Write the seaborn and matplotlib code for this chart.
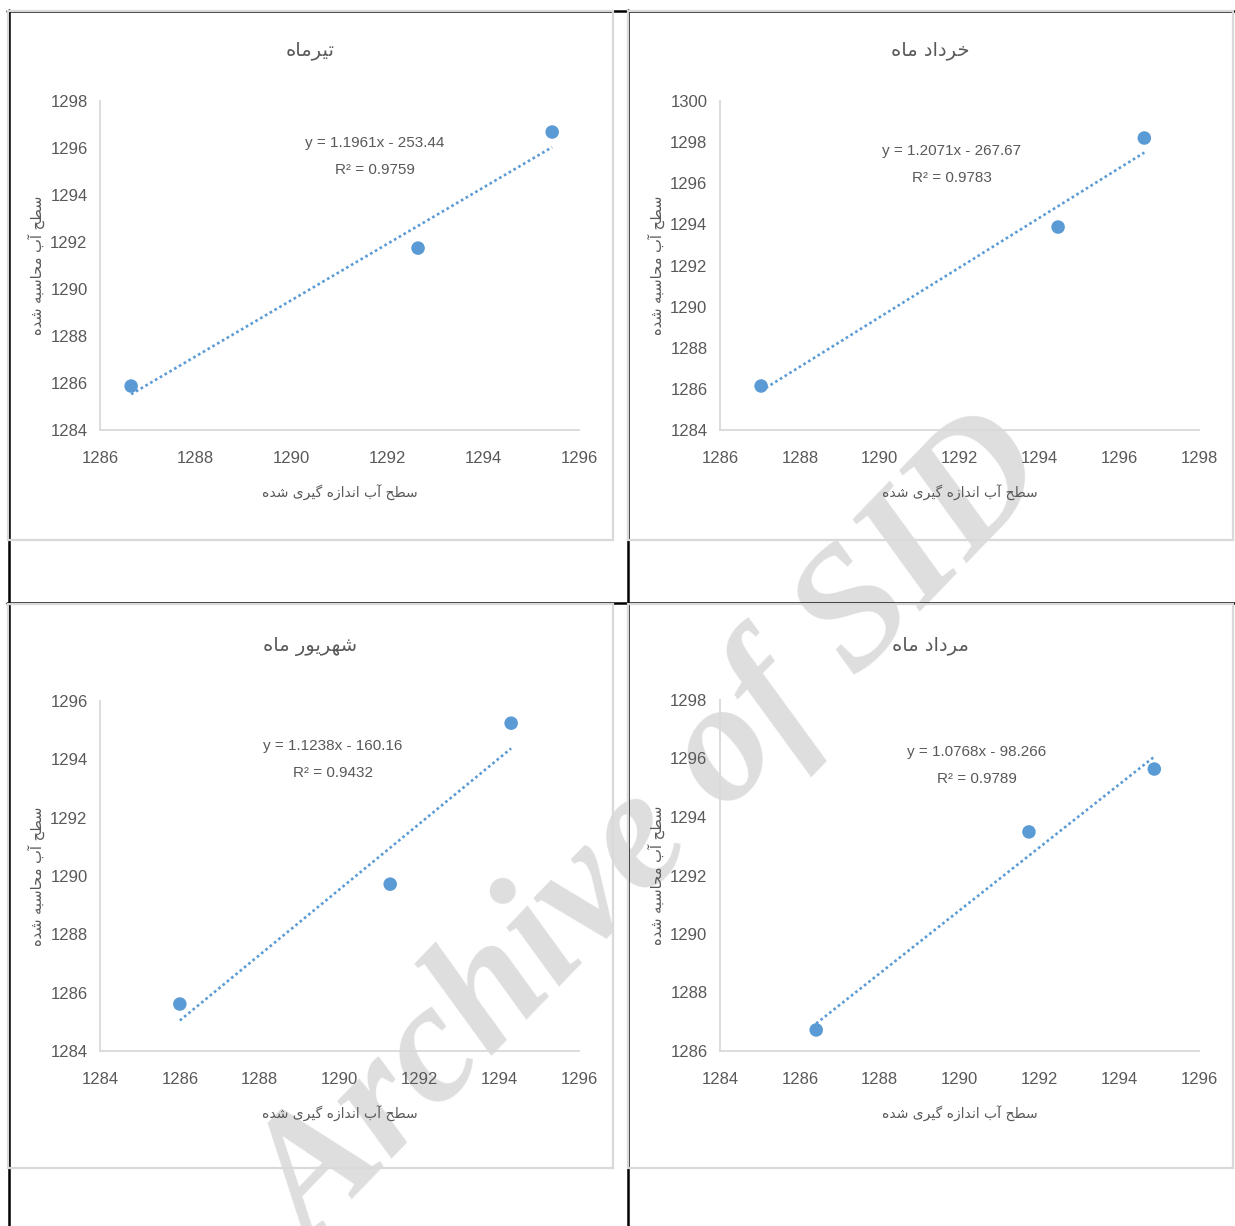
import numpy as np
import pandas as pd
import matplotlib
matplotlib.use("Agg")
import matplotlib.pyplot as plt
from matplotlib.patches import Rectangle
from matplotlib.lines import Line2D
import seaborn as sns

# ---------------- data ----------------
titles = ["تیرماه", "خرداد ماه", "شهریور ماه", "مرداد ماه"]
x_label = "سطح آب اندازه گیری شده"
y_label = "سطح آب محاسبه شده"

tir_x = [1286.65, 1292.64, 1295.44]
tir_y = [1285.87, 1291.74, 1296.68]
khordad_x = [1287.03, 1294.47, 1296.63]
khordad_y = [1286.14, 1293.87, 1298.20]
shahrivar_x = [1286.00, 1291.27, 1294.30]
shahrivar_y = [1285.61, 1289.72, 1295.24]
mordad_x = [1286.41, 1291.74, 1294.88]
mordad_y = [1286.72, 1293.49, 1295.64]

slopes = [1.1961, 1.2071, 1.1238, 1.0768]
intercepts = [-253.44, -267.67, -160.16, -98.266]
eq_labels = ["y = 1.1961x - 253.44", "y = 1.2071x - 267.67",
             "y = 1.1238x - 160.16", "y = 1.0768x - 98.266"]
r2_labels = ["R² = 0.9759", "R² = 0.9783", "R² = 0.9432", "R² = 0.9789"]

x_ticks = [[1286, 1288, 1290, 1292, 1294, 1296],
           [1286, 1288, 1290, 1292, 1294, 1296, 1298],
           [1284, 1286, 1288, 1290, 1292, 1294, 1296],
           [1284, 1286, 1288, 1290, 1292, 1294, 1296]]
y_ticks = [[1284, 1286, 1288, 1290, 1292, 1294, 1296, 1298],
           [1284, 1286, 1288, 1290, 1292, 1294, 1296, 1298, 1300],
           [1284, 1286, 1288, 1290, 1292, 1294, 1296],
           [1286, 1288, 1290, 1292, 1294, 1296, 1298]]

# ---------------- simple Arabic/Persian shaping ----------------
FORMS = {
    'ا': (0xFE8D, 0xFE8E, None, None), 'آ': (0xFE81, 0xFE82, None, None),
    'ب': (0xFE8F, 0xFE90, 0xFE91, 0xFE92), 'پ': (0xFB56, 0xFB57, 0xFB58, 0xFB59),
    'ت': (0xFE95, 0xFE96, 0xFE97, 0xFE98), 'ح': (0xFEA1, 0xFEA2, 0xFEA3, 0xFEA4),
    'خ': (0xFEA5, 0xFEA6, 0xFEA7, 0xFEA8), 'د': (0xFEA9, 0xFEAA, None, None),
    'ذ': (0xFEAB, 0xFEAC, None, None), 'ر': (0xFEAD, 0xFEAE, None, None),
    'ز': (0xFEAF, 0xFEB0, None, None), 'س': (0xFEB1, 0xFEB2, 0xFEB3, 0xFEB4),
    'ش': (0xFEB5, 0xFEB6, 0xFEB7, 0xFEB8), 'ط': (0xFEC1, 0xFEC2, 0xFEC3, 0xFEC4),
    'گ': (0xFB92, 0xFB93, 0xFB94, 0xFB95), 'م': (0xFEE1, 0xFEE2, 0xFEE3, 0xFEE4),
    'ن': (0xFEE5, 0xFEE6, 0xFEE7, 0xFEE8),
    'ه': (0xFEE9, 0xFEEA, 0xFEEB, 0xFEEC), 'و': (0xFEED, 0xFEEE, None, None),
    'ی': (0xFBFC, 0xFBFD, 0xFBFE, 0xFBFF),
}


def shape(text):
    out = []
    n = len(text)
    for i, ch in enumerate(text):
        if ch not in FORMS:
            out.append(ch)
            continue
        iso, fin, ini, med = FORMS[ch]
        prev = text[i - 1] if i > 0 else None
        nxt = text[i + 1] if i < n - 1 else None
        jp = prev in FORMS and FORMS[prev][2] is not None
        jn = ini is not None and nxt in FORMS
        if jp and jn:
            code = med
        elif jp:
            code = fin
        elif jn:
            code = ini
        else:
            code = iso
        out.append(chr(code))
    return "".join(out)[::-1]


# ---------------- figure ----------------
sns.set_theme(style="white")
plt.rcParams['font.family'] = ['Liberation Sans', 'DejaVu Sans']

W, H = 1235, 1226
fig = plt.figure(figsize=(W / 100, H / 100), dpi=100)
fig.patch.set_facecolor("white")


def fx(px):
    return px / W


def fy(py):
    return 1 - py / H


blue = "#5b9bd5"
grey_txt = "#595959"

# watermark (behind everything)
fig.text(fx(655), fy(835), "Archive of SID", rotation=46, rotation_mode="anchor",
         ha="center", va="center", fontsize=124, fontweight="bold", fontstyle="italic",
         family=["Liberation Serif", "DejaVu Serif"], color="#dedede", zorder=-5)

# chart frames (light grey)
frames = [(8, 11, 613, 540), (628, 11, 1233, 540), (8, 604, 613, 1168), (628, 604, 1233, 1168)]
for x0, y0, x1, y1 in frames:
    fig.patches.append(Rectangle((fx(x0), fy(y1)), fx(x1) - fx(x0), fy(y0) - fy(y1),
                                 transform=fig.transFigure, fill=False,
                                 edgecolor="#d9d9d9", lw=1.6, zorder=-1))

# table lines (black)
for (xa, ya, xb, yb) in [(7, 10.5, 1235, 10.5), (7, 602.5, 1235, 602.5),
                         (8.5, 10, 8.5, 1226), (628.5, 10, 628.5, 1226)]:
    fig.lines.append(Line2D([fx(xa), fx(xb)], [fy(ya), fy(yb)], transform=fig.transFigure,
                            color="black", lw=1.8, zorder=-1))

axes_px = [(100, 101, 579, 430), (720, 101, 1199, 430), (100, 701, 579, 1051), (720, 700, 1199, 1051)]
title_px = [(310, 50), (930, 50), (310, 647), (930, 645)]
eq_px = [(375, 143), (952, 151), (333, 746), (977, 752)]

xs = [tir_x, khordad_x, shahrivar_x, mordad_x]
ys = [tir_y, khordad_y, shahrivar_y, mordad_y]

for k in range(4):
    x0, y0, x1, y1 = axes_px[k]
    ax = fig.add_axes([fx(x0), fy(y1), fx(x1) - fx(x0), fy(y0) - fy(y1)])
    ax.set_facecolor("none")
    df = pd.DataFrame({"x": xs[k], "y": ys[k]})
    xr = np.array([min(xs[k]), max(xs[k])])
    ax.plot(xr, slopes[k] * xr + intercepts[k], linestyle=(0, (1, 1.1)),
            color=blue, lw=1.9, zorder=2)
    sns.scatterplot(data=df, x="x", y="y", ax=ax, color=blue, s=95,
                    edgecolor="none", zorder=3, legend=False)
    ax.set_xlim(x_ticks[k][0], x_ticks[k][-1])
    ax.set_ylim(y_ticks[k][0], y_ticks[k][-1])
    ax.set_xticks(x_ticks[k])
    ax.set_yticks(y_ticks[k])
    ax.tick_params(axis="both", length=0, labelsize=12, labelcolor=grey_txt)
    ax.tick_params(axis="x", pad=15)
    ax.tick_params(axis="y", pad=9)
    for s in ["top", "right"]:
        ax.spines[s].set_visible(False)
    for s in ["left", "bottom"]:
        ax.spines[s].set_color("#d9d9d9")
        ax.spines[s].set_linewidth(1.3)
    ax.set_xlabel("")
    ax.set_ylabel("")
    ax.grid(False)

    # titles and axis labels
    tx, ty = title_px[k]
    fig.text(fx(tx), fy(ty), shape(titles[k]), ha="center", va="center",
             fontsize=14, color=grey_txt, family=["DejaVu Sans"])
    fig.text(fx((x0 + x1) / 2), fy(y1 + 63), shape(x_label), ha="center", va="center",
             fontsize=10, color=grey_txt, family=["DejaVu Sans"])
    fig.text(fx(x0 - 64), fy((y0 + y1) / 2), shape(y_label), ha="center", va="center",
             rotation=90, fontsize=10.5, color=grey_txt, family=["DejaVu Sans"])
    ex, ey = eq_px[k]
    fig.text(fx(ex), fy(ey), eq_labels[k], ha="center", va="center",
             fontsize=11, color=grey_txt)
    fig.text(fx(ex), fy(ey + 27), r2_labels[k], ha="center", va="center",
             fontsize=11, color=grey_txt)

fig.savefig("out.png", dpi=100, facecolor="white")
